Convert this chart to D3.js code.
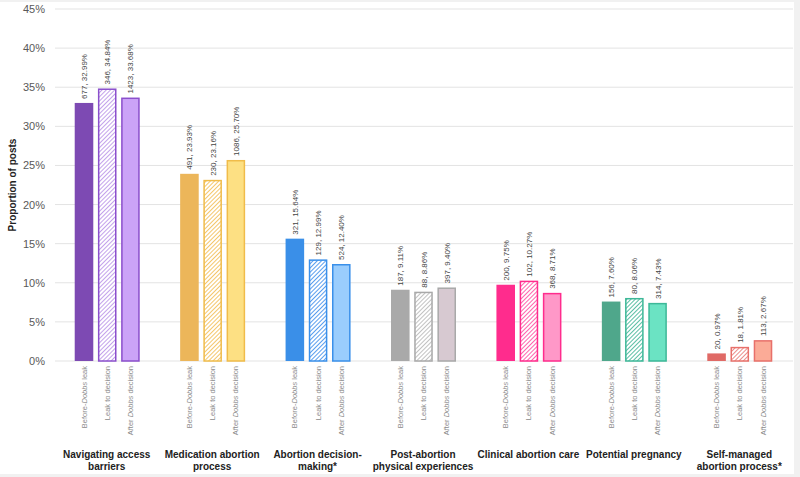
<!DOCTYPE html>
<html>
<head>
<meta charset="utf-8">
<script src="https://cdn.jsdelivr.net/npm/d3@7"></script>
<style>
  body { margin: 0; background: #f1f1f1; }
  svg { display: block; font-family: "Liberation Sans", Arial, sans-serif; }
</style>
</head>
<body>
<div id="chart"></div>
<script>
// categories (x groups), each label split into lines
const categories = [
  ["Navigating access", "barriers"],
  ["Medication abortion", "process"],
  ["Abortion decision-", "making*"],
  ["Post-abortion", "physical experiences"],
  ["Clinical abortion care"],
  ["Potential pregnancy"],
  ["Self-managed", "abortion process*"]
];

const periods = ["before", "leak", "after"];

// counts and percentages per period
const countsBefore = [677, 491, 321, 187, 200, 156, 20];
const countsLeak = [346, 230, 129, 88, 102, 80, 18];
const countsAfter = [1423, 1086, 524, 397, 368, 314, 113];

const pctBefore = [32.99, 23.93, 15.64, 9.11, 9.75, 7.60, 0.97];
const pctLeak = [34.84, 23.16, 12.99, 8.86, 10.27, 8.06, 1.81];
const pctAfter = [33.68, 25.70, 12.40, 9.40, 8.71, 7.43, 2.67];

const yTicks = [0, 5, 10, 15, 20, 25, 30, 35, 40, 45];

// colours per category: [solid, hatch line, light fill, light stroke]
const palette = [
  ["#7d4ab3", "#b48ae6", "#cba3f7", "#8b4fcc"],
  ["#ecb65a", "#f2b845", "#fde083", "#f0bc4a"],
  ["#3a8fe8", "#2e84ea", "#9acdfd", "#3a90ea"],
  ["#a9a9a9", "#b3b3b3", "#d7c9d1", "#a9a9a9"],
  ["#ff2c8d", "#ff3c98", "#ff98c8", "#ff2c8d"],
  ["#4fa78b", "#2fae8d", "#6be3c3", "#3db898"],
  ["#e06a66", "#e6706c", "#fbab97", "#e8706a"]
];

const W = 800, H = 477;
const margin = { top: 9, right: 7, bottom: 116, left: 55 };
const plotW = W - margin.left - margin.right;
const plotH = H - margin.top - margin.bottom;

const svg = d3.select("#chart").append("svg")
  .attr("width", W)
  .attr("height", H);

svg.append("rect")
  .attr("x", 0).attr("y", 2)
  .attr("width", 794).attr("height", 472)
  .attr("fill", "#fff");

// hatch patterns
const defs = svg.append("defs");
palette.forEach((c, i) => {
  const p = defs.append("pattern")
    .attr("id", "hatch" + i)
    .attr("patternUnits", "userSpaceOnUse")
    .attr("width", 3).attr("height", 3)
    .attr("patternTransform", "rotate(45)");
  p.append("rect").attr("width", 3).attr("height", 3).attr("fill", "#fff");
  p.append("line")
    .attr("x1", 0).attr("y1", 0).attr("x2", 0).attr("y2", 3)
    .attr("stroke", c[1]).attr("stroke-width", 1.6);
});

const g = svg.append("g")
  .attr("transform", `translate(${margin.left},${margin.top})`);

const x0 = d3.scaleBand()
  .domain(d3.range(categories.length))
  .range([0, plotW]);

const x1 = d3.scaleBand()
  .domain(periods)
  .range([x0.bandwidth() / 2 - 33, x0.bandwidth() / 2 + 32])
  .paddingInner(0.2);

const y = d3.scaleLinear().domain([0, 45]).range([plotH, 0]);

// gridlines
g.append("g")
  .selectAll("line")
  .data(yTicks)
  .join("line")
  .attr("x1", 0).attr("x2", plotW)
  .attr("y1", d => y(d)).attr("y2", d => y(d))
  .attr("stroke", "#e3e3e3")
  .attr("stroke-width", 1);

// y axis labels
const yAxis = g.append("g")
  .call(d3.axisLeft(y).tickValues(yTicks).tickFormat(d => d + "%").tickSize(0).tickPadding(10));
yAxis.select(".domain").remove();
yAxis.selectAll("text")
  .attr("fill", "#595959")
  .style("font-size", "11px");

// y axis title
svg.append("text")
  .attr("transform", `translate(16,${margin.top + plotH / 2}) rotate(-90)`)
  .attr("text-anchor", "middle")
  .style("font-size", "10px")
  .style("font-weight", "bold")
  .attr("fill", "#222")
  .text("Proportion of posts");

// build bar rows
const rows = [];
categories.forEach((c, i) => {
  rows.push({ cat: i, period: "before", n: countsBefore[i], pct: pctBefore[i] });
  rows.push({ cat: i, period: "leak", n: countsLeak[i], pct: pctLeak[i] });
  rows.push({ cat: i, period: "after", n: countsAfter[i], pct: pctAfter[i] });
});

const bx = d => x0(d.cat) + x1(d.period);

function fillOf(d) {
  const c = palette[d.cat];
  if (d.period === "before") return c[0];
  if (d.period === "leak") return `url(#hatch${d.cat})`;
  return c[2];
}
function strokeOf(d) {
  const c = palette[d.cat];
  if (d.period === "before") return "none";
  return c[3];
}

g.append("g")
  .selectAll("rect")
  .data(rows)
  .join("rect")
  .attr("x", d => bx(d) + (d.period === "before" ? 0 : 0.75))
  .attr("y", d => y(d.pct) + (d.period === "before" ? 0 : 0.75))
  .attr("width", d => x1.bandwidth() - (d.period === "before" ? 0 : 1.5))
  .attr("height", d => y(0) - y(d.pct) - (d.period === "before" ? 0 : 0.75))
  .attr("fill", fillOf)
  .attr("stroke", strokeOf)
  .attr("stroke-width", 1.5);

// value labels above bars
g.append("g")
  .selectAll("text")
  .data(rows)
  .join("text")
  .attr("transform", d => `translate(${bx(d) + x1.bandwidth() / 2 + 3},${y(d.pct) - 4}) rotate(-90)`)
  .style("font-size", "8px")
  .attr("fill", "#444")
  .text(d => `${d.n}, ${d.pct.toFixed(2)}%`);

// period labels under bars
const periodLabel = {
  before: ["Before-", "Dobbs", " leak"],
  leak: ["Leak to decision", "", ""],
  after: ["After ", "Dobbs", " decision"]
};
const pl = g.append("g")
  .selectAll("text")
  .data(rows)
  .join("text")
  .attr("transform", d => `translate(${bx(d) + x1.bandwidth() / 2 + 2.5},${plotH + 5}) rotate(-90)`)
  .attr("text-anchor", "end")
  .style("font-size", "7.5px")
  .attr("fill", "#8a8a8a");
pl.each(function (d) {
  const parts = periodLabel[d.period];
  const t = d3.select(this);
  t.append("tspan").text(parts[0]);
  if (parts[1]) t.append("tspan").style("font-style", "italic").text(parts[1]);
  if (parts[2]) t.append("tspan").text(parts[2]);
});

// category labels
const cl = g.append("g")
  .selectAll("text")
  .data(categories)
  .join("text")
  .attr("x", (d, i) => x0(i) + x0.bandwidth() / 2 - 1)
  .attr("y", plotH + 97)
  .attr("text-anchor", "middle")
  .style("font-size", "10px")
  .style("font-weight", "bold")
  .attr("fill", "#222");
cl.each(function (d, i) {
  const t = d3.select(this);
  d.forEach((line, k) => {
    t.append("tspan")
      .attr("x", x0(i) + x0.bandwidth() / 2 - 1)
      .attr("dy", k === 0 ? 0 : 11.5)
      .text(line);
  });
});
</script>
</body>
</html>
